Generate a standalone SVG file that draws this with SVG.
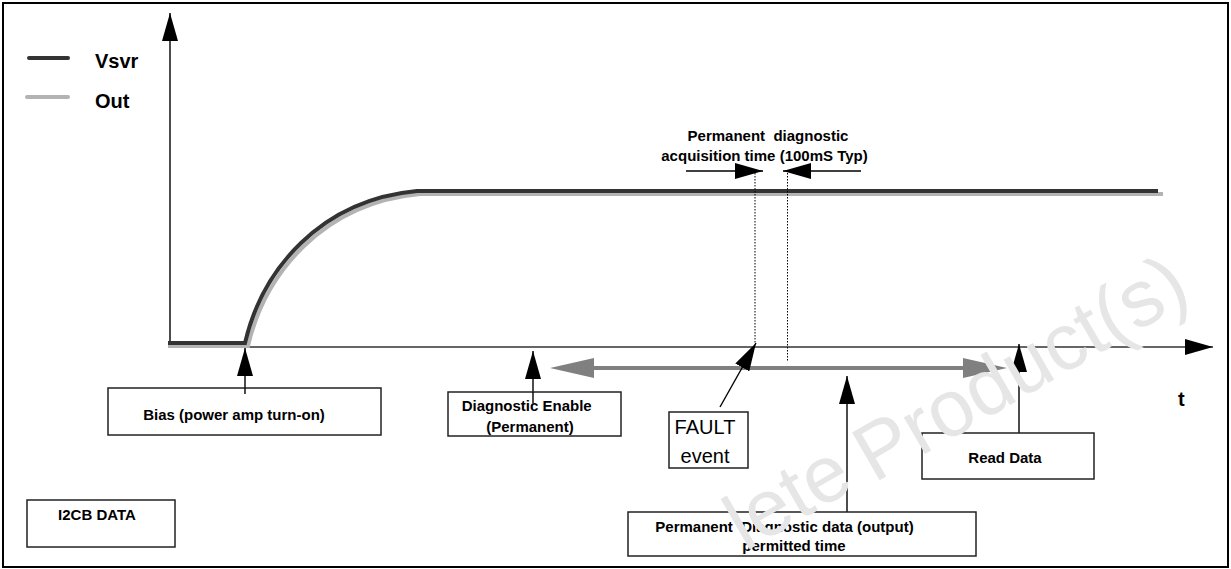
<svg xmlns="http://www.w3.org/2000/svg" width="1231" height="569" viewBox="0 0 1231 569">
<style>
  .lbl { font-family: "Liberation Sans", Arial, sans-serif; font-weight: bold; font-size: 15px; fill: #000; white-space: pre; }
  .big { font-family: "Liberation Sans", Arial, sans-serif; font-weight: bold; font-size: 20px; fill: #000; }
  .reg { font-family: "Liberation Sans", Arial, sans-serif; font-size: 20px; fill: #000; }
  .box { fill: #fff; stroke: #222; stroke-width: 1.5; }
  .ln { stroke: #000; stroke-width: 1.4; fill: none; }
  .axis { stroke: #333; stroke-width: 1.4; fill: none; }
  .dot { stroke: #000; stroke-width: 1; stroke-dasharray: 1.5 1.5; fill: none; }
  .wm { font-family: "Liberation Sans", Arial, sans-serif; font-size: 80px; fill: #e6e6e6; }
</style>
<defs>
  <marker id="ah" markerUnits="userSpaceOnUse" viewBox="0 0 28 16" refX="28" refY="8" markerWidth="28" markerHeight="16" orient="auto">
    <path d="M0,0 L28,8 L0,16 Z" fill="#000"/>
  </marker>
  <marker id="gh" markerUnits="userSpaceOnUse" viewBox="0 0 44 20" refX="34" refY="10" markerWidth="44" markerHeight="20" orient="auto-start-reverse">
    <path d="M0,0 L44,10 L0,20 Z" fill="#808080"/>
  </marker>
</defs>
<rect x="0" y="0" width="1231" height="569" fill="#fff"/>
<rect x="3" y="3" width="1225" height="564" fill="none" stroke="#000" stroke-width="2"/>

<g id="legend">
  <line x1="29" y1="58" x2="68" y2="58" stroke="#333" stroke-width="4" stroke-linecap="round"/>
  <text class="big" x="95" y="68">Vsvr</text>
  <line x1="27" y1="97" x2="68" y2="97" stroke="#b3b3b3" stroke-width="4" stroke-linecap="round"/>
  <text class="big" x="95" y="108">Out</text>
</g>

<g id="axes">
  <line class="axis" x1="170" y1="347" x2="1213" y2="347" marker-end="url(#ah)"/>
  <line class="ln" x1="170" y1="347" x2="170" y2="13" marker-end="url(#ah)"/>
  <text class="big" x="1178" y="406">t</text>
</g>

<g id="waveforms">
  <path d="M168,346 H248 C265,273 323,203 420,194 H1163" fill="none" stroke="#b3b3b3" stroke-width="4"/>
  <path d="M168,343 H245 C262,270 320,200 417,191 H1158" fill="none" stroke="#333" stroke-width="4"/>
</g>

<g id="acquisition">
  <line class="dot" x1="755" y1="173" x2="755" y2="343"/>
  <line class="dot" x1="787.5" y1="173" x2="787.5" y2="362"/>
  <text class="lbl" x="768" y="140.5" text-anchor="middle">Permanent  diagnostic</text>
  <text class="lbl" x="764.5" y="160.5" text-anchor="middle">acquisition time (100mS Typ)</text>
</g>

<g id="connectors">
  <line class="ln" x1="686" y1="171" x2="763" y2="171" marker-end="url(#ah)"/>
  <line class="ln" x1="861" y1="171" x2="783" y2="171" marker-end="url(#ah)"/>
  <line x1="560" y1="368" x2="997" y2="368" stroke="#808080" stroke-width="4" marker-start="url(#gh)" marker-end="url(#gh)"/>
  <line class="ln" x1="245" y1="394" x2="245" y2="348" marker-end="url(#ah)"/>
  <line class="ln" x1="533" y1="403" x2="533" y2="351" marker-end="url(#ah)"/>
  <line class="ln" x1="720" y1="407" x2="756" y2="343" marker-end="url(#ah)"/>
  <line class="ln" x1="847" y1="512" x2="847" y2="376" marker-end="url(#ah)"/>
  <line class="ln" x1="1019" y1="433" x2="1019" y2="344" marker-end="url(#ah)"/>
</g>

<g id="bias">
  <rect class="box" x="108" y="388" width="273" height="47"/>
  <line class="ln" x1="245" y1="388" x2="245" y2="394"/>
  <text class="lbl" x="234" y="420" text-anchor="middle">Bias (power amp turn-on)</text>
</g>

<g id="diag-enable">
  <rect class="box" x="448" y="392" width="173" height="44"/>
  <line class="ln" x1="533" y1="392" x2="533" y2="403"/>
  <text class="lbl" x="526.7" y="410.7" text-anchor="middle">Diagnostic Enable</text>
  <text class="lbl" x="530" y="431.7" text-anchor="middle">(Permanent)</text>
</g>

<g id="fault">
  <rect class="box" x="669" y="412" width="79" height="56"/>
  <text class="reg" x="705" y="434.3" text-anchor="middle">FAULT</text>
  <text class="reg" x="705" y="463.3" text-anchor="middle">event</text>
</g>

<g id="read-data">
  <rect class="box" x="922" y="433" width="172" height="46"/>
  <text class="lbl" x="1005" y="463" text-anchor="middle">Read Data</text>
</g>

<g id="i2cb">
  <rect class="box" x="27" y="500" width="148" height="47"/>
  <text class="lbl" x="97" y="520" text-anchor="middle">I2CB DATA</text>
</g>

<g id="perm-data">
  <rect class="box" x="628" y="512" width="348" height="44"/>
  <text class="lbl" x="784.5" y="532" text-anchor="middle">Permanent  Diagnostic data (output)</text>
  <text class="lbl" x="794" y="551" text-anchor="middle">permitted time</text>
</g>

<g id="watermark">
  <text class="wm" transform="translate(745,552) rotate(-30)">lete</text>
  <text class="wm" transform="translate(874,483.5) rotate(-30)">Product(s)</text>
</g>
</svg>
